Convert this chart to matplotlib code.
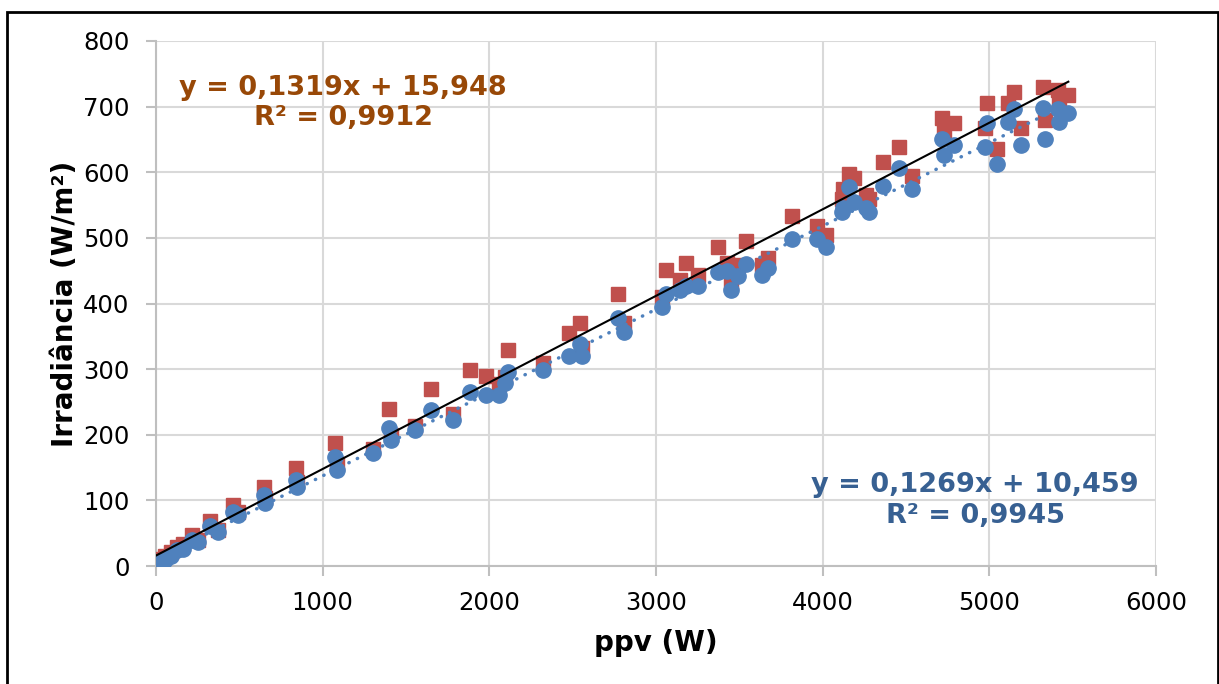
import numpy as np
import matplotlib
matplotlib.use("Agg")
import matplotlib.pyplot as plt
from matplotlib.patches import Rectangle

# ppv (W) and irradiance readings (W/m2) for the two series
ppv = [4, 20, 54, 90, 124, 164, 214, 254, 324, 374, 460, 494, 648, 654, 840, 844,
       1074, 1084, 1304, 1398, 1408, 1554, 1648, 1784, 1884, 1980, 2056, 2094, 2114,
       2324, 2480, 2544, 2558, 2774, 2808, 3036, 3062, 3144, 3178, 3252, 3372, 3426,
       3450, 3490, 3540, 3638, 3670, 3816, 3964, 4018, 4114, 4122, 4160, 4190, 4260,
       4280, 4362, 4458, 4536, 4718, 4726, 4788, 4974, 4984, 5046, 5114, 5148, 5192,
       5320, 5336, 5414, 5420, 5474]
irr_blue = [3, 6, 9, 16, 24, 26, 40, 37, 61, 52, 83, 77, 108, 96, 131, 121,
            166, 146, 172, 211, 192, 207, 238, 222, 265, 260, 260, 279, 296,
            299, 320, 338, 320, 378, 356, 395, 414, 421, 426, 427, 448, 450,
            421, 442, 460, 444, 454, 498, 498, 486, 540, 545, 577, 555, 545,
            540, 579, 606, 574, 650, 626, 641, 639, 675, 613, 676, 696, 641,
            698, 651, 697, 676, 691]
irr_red = [7, 10, 15, 22, 29, 33, 47, 40, 69, 55, 93, 82, 121, 103, 149, 128,
           187, 156, 178, 240, 200, 213, 269, 232, 298, 289, 278, 288, 329,
           310, 355, 370, 332, 414, 370, 410, 451, 436, 462, 443, 486, 461,
           431, 459, 496, 459, 469, 533, 518, 504, 560, 575, 597, 591, 565,
           560, 615, 639, 594, 682, 662, 675, 667, 706, 636, 706, 723, 667,
           730, 680, 726, 710, 718]

# trendline coefficients (as printed on the chart)
fit_red = (0.1319, 15.948)
fit_blue = (0.1269, 10.459)
label_red = ["y = 0,1319x + 15,948", "R² = 0,9912"]
label_blue = ["y = 0,1269x + 10,459", "R² = 0,9945"]

W, H = 1219, 684
fig = plt.figure(figsize=(W / 100, H / 100), dpi=100)
ax = fig.add_axes([156 / W, 1 - 566 / H, 1000 / W, 525 / H])

blue = "#4F81BD"
red = "#C0504D"

ax.plot(ppv, irr_red, "s", color=red, ms=10, mec=red, zorder=3)
ax.plot(ppv, irr_blue, "o", color=blue, ms=11, mec=blue, zorder=4)

xx = np.array([0, max(ppv)])
ax.plot(xx, fit_red[0] * xx + fit_red[1], color="black", lw=1.5, zorder=5)
ax.plot(xx, fit_blue[0] * xx + fit_blue[1], color=blue, lw=2.5,
        linestyle=(0, (0.1, 2.6)), dash_capstyle="round", zorder=5)

ax.set_xlim(0, 6000)
ax.set_ylim(0, 800)
ax.set_xticks(range(0, 6001, 1000))
ax.set_yticks(range(0, 801, 100))
ax.grid(True, color="#D9D9D9", lw=1.5)
ax.set_axisbelow(True)
for s in ["top", "right"]:
    ax.spines[s].set_visible(False)
for s in ["left", "bottom"]:
    ax.spines[s].set_color("#BFBFBF")
    ax.spines[s].set_linewidth(1.5)
ax.tick_params(colors="#BFBFBF", labelcolor="black", labelsize=17.5, length=7,
               width=1.5)
ax.tick_params(axis="y", pad=12)
ax.tick_params(axis="x", pad=11)

ax.set_xlabel("ppv (W)", fontsize=20, fontweight="bold", labelpad=10)
ax.set_ylabel("Irradiância (W/m²)", fontsize=20, fontweight="bold", labelpad=3)

ax.text(343 / W, 1 - 88 / H, label_red[0], transform=fig.transFigure, ha="center",
        va="center", fontsize=19.5, fontweight="bold", color="#984807")
ax.text(343 / W, 1 - 118 / H, label_red[1], transform=fig.transFigure, ha="center",
        va="center", fontsize=19.5, fontweight="bold", color="#984807")
ax.text(975 / W, 1 - 485 / H, label_blue[0], transform=fig.transFigure, ha="center",
        va="center", fontsize=19.5, fontweight="bold", color="#376092")
ax.text(975 / W, 1 - 516 / H, label_blue[1], transform=fig.transFigure, ha="center",
        va="center", fontsize=19.5, fontweight="bold", color="#376092")

fig.patches.append(Rectangle((6.5 / W, -0.05), (1217.5 - 6.5) / W, 1.05 - 11.5 / H,
                             transform=fig.transFigure, fill=False,
                             edgecolor="black", lw=2))

fig.savefig("out.png", dpi=100)
